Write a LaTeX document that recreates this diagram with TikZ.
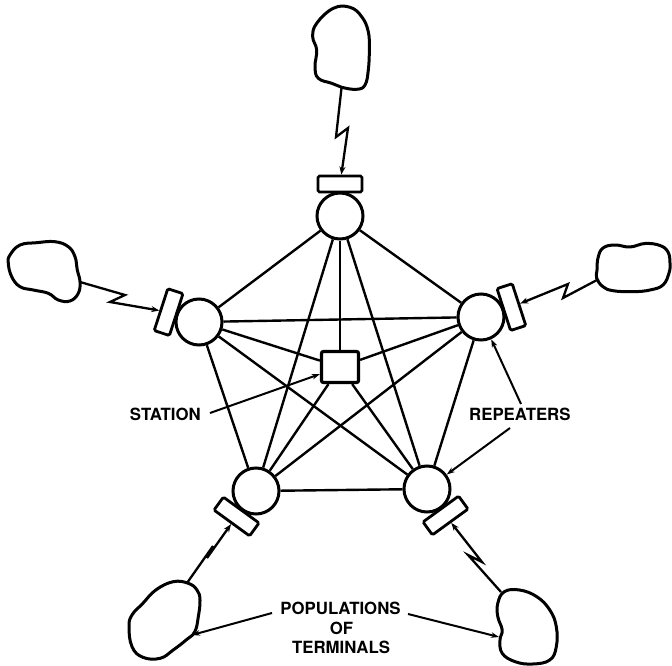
\documentclass[tikz,border=0pt]{standalone}
\usepackage{fontspec}
\setmainfont{TeX Gyre Heros}
\usetikzlibrary{arrows.meta,calc}
\begin{document}
\begin{tikzpicture}[x=1pt,y=-1pt,
  rep/.style={circle,draw,line width=3pt,minimum size=46pt,inner sep=0pt},
  ant/.style={rectangle,draw,line width=2.8pt,minimum width=44pt,minimum height=16pt,inner sep=0pt,rounded corners=1.5pt},
  sta/.style={rectangle,draw,line width=3.2pt,minimum width=37pt,minimum height=31pt,inner sep=0pt,rounded corners=2pt},
  link/.style={line width=2.4pt},
  blob/.style={line width=3pt,line join=round},
  zz/.style={line width=2.3pt,line join=miter,-{Stealth[length=8pt,width=6pt]}},
  ptr/.style={line width=2pt,-{Stealth[length=8pt,width=5.5pt]}},
  lab/.style={font=\fontsize{16.8}{20}\selectfont\bfseries,inner sep=0pt}
]
\useasboundingbox (0,0) rectangle (672,666);

% repeaters
\node[rep] (cT)  at (340,216) {};
\node[rep] (cL)  at (199,322) {};
\node[rep] (cR)  at (481,317) {};
\node[rep] (cBL) at (256,491) {};
\node[rep] (cBR) at (427,489) {};
% station
\node[sta] (st) at (340,367) {};

% antennas
\node[ant,rotate=0]   (aT)  at (340,184) {};
\node[ant,rotate=72]  (aL)  at (168.6,312.1) {};
\node[ant,rotate=-72] (aR)  at (511.4,307.1) {};
\node[ant,rotate=144] (aBL) at (236.5,516.5) {};
\node[ant,rotate=36]  (aBR) at (445.5,515.5) {};

% full mesh
\foreach \a/\b in {cT/cL,cT/cR,cT/cBL,cT/cBR,cL/cR,cL/cBL,cL/cBR,cR/cBL,cR/cBR,cBL/cBR,
                   st/cT,st/cL,st/cR,st/cBL,st/cBR}
  \draw[link] (\a) -- (\b);

% populations of terminals (blobs)
\draw[blob] plot[smooth cycle,tension=0.7] coordinates {
 (316.7,23.3) (333.3,8.3) (350,7.3) (361.7,16.7) (368.3,31.7) (369.3,50) (368.3,70)
 (365,85) (356.7,89.3) (341.7,87.3) (331.7,83.3) (318.3,78.3) (315,66.7) (316.7,50) (312.7,36.7)};
\draw[blob] plot[smooth cycle,tension=0.7] coordinates {
 (10,255) (20,245) (36.7,242.7) (55,241.7) (68.3,246.7) (75,256.7) (77.3,270) (80,281.7)
 (78.3,293.3) (70,301) (58.3,300) (48.3,293.3) (33.3,290) (20,286.7) (11.7,276.7) (8.3,263.3)};
\draw[blob] plot[smooth cycle,tension=0.7] coordinates {
 (596.7,278.3) (603,286.7) (613,290.7) (633,291.7) (650,290) (663,285) (669,273) (670,263)
 (668,252) (660,245.5) (645,243.5) (630,247) (615,245) (603,248) (598,258) (597,270)};
\draw[blob] plot[smooth cycle,tension=0.7] coordinates {
 (173.2,581.7) (188.3,583.3) (197,590) (200,600) (198.3,616.7) (194.8,631.7) (186.1,640)
 (173.2,650) (160.2,658.3) (142.9,657.3) (132,646.7) (129,626.7) (132,615) (142.9,603.3) (155.8,590)};
\draw[blob] plot[smooth cycle,tension=0.7] coordinates {
 (504.3,591.7) (519.5,590) (536.8,596.7) (549.8,610) (556.3,626.7) (556.3,646.7) (549.8,660)
 (532.5,664) (515.2,661.7) (502.2,653.3) (500,640) (502.2,630) (497.8,616.7) (497.8,603.3)};

% radio links (zigzag)
\coordinate (tA) at (341.5,88);   \coordinate (tP1) at (336,137);  \coordinate (tP2) at (348,128);
\coordinate (lA) at (80,282);     \coordinate (lP1) at (125,295);  \coordinate (lP2) at (110,302);
\coordinate (rA) at (597,280);    \coordinate (rP1) at (563,298);  \coordinate (rP2) at (568,284);
\coordinate (blA) at (187,583);   \coordinate (blP1) at (213,546); \coordinate (blP2) at (207,558);
\coordinate (brA) at (501,592);   \coordinate (brP1) at (468,555); \coordinate (brP2) at (482,562);
\draw[zz] (tA) -- (tP1) -- (tP2) -- (aT);
\draw[zz] (lA) -- (lP1) -- (lP2) -- (aL);
\draw[zz] (rA) -- (rP1) -- (rP2) -- (aR);
\draw[zz] (blA) -- (blP1) -- (blP2) -- (aBL);
\draw[zz] (brA) -- (brP1) -- (brP2) -- (aBR);

% labels
\node[lab,anchor=base east] (stlab) at (201,420) {STATION};
\node[lab,anchor=base west] (replab) at (469,420) {REPEATERS};
\node[lab,anchor=base] (pop1) at (340.5,614) {POPULATIONS};
\node[lab,anchor=base] (pop2) at (341.5,634) {OF};
\node[lab,anchor=base] (pop3) at (341,653) {TERMINALS};

% label pointers
\coordinate (s0) at (210,413);
\coordinate (r1) at (521,404);
\coordinate (r2) at (510,428);
\coordinate (p1) at (272,613);
\coordinate (p2) at (408,614);
\coordinate (blT) at (192,635);
\coordinate (brT) at (499,637);
\draw[ptr] (s0) -- (st);
\draw[ptr] (r1) -- (cR);
\draw[ptr] (r2) -- (cBR);
\draw[ptr] (p1) -- (blT);
\draw[ptr] (p2) -- (brT);
\end{tikzpicture}
\end{document}
